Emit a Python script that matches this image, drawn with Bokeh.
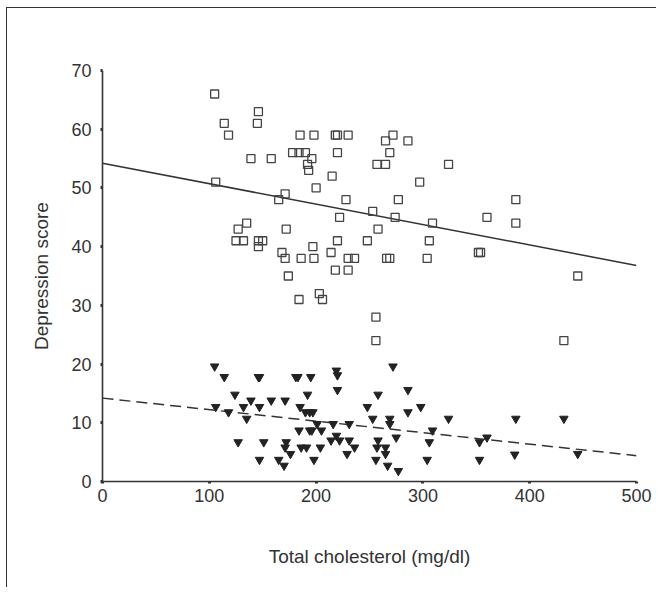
from bokeh.plotting import figure
from bokeh.models import Range1d, FixedTicker
from bokeh.embed import file_html
from bokeh.resources import INLINE

# --- data ---
sq_x = [105, 114, 146, 145, 118, 139, 158, 106, 171, 165, 127, 135, 125, 132, 146, 150, 146, 172,
        168, 171, 174, 185, 198, 218, 220, 230, 272, 265, 286, 178, 184, 190, 196, 192, 193, 220,
        269, 257, 265, 324, 215, 200, 297, 228, 277, 253, 222, 274, 309, 360, 258, 220, 248, 306,
        197, 186, 198, 214, 230, 236, 266, 269, 304, 352, 354, 218, 230, 184, 203, 206, 256, 256,
        445, 432, 387, 387]
sq_y = [66, 61, 63, 61, 59, 55, 55, 51, 49, 48, 43, 44, 41, 41, 41, 41, 40, 43,
        39, 38, 35, 59, 59, 59, 59, 59, 59, 58, 58, 56, 56, 56, 55, 54, 53, 56,
        56, 54, 54, 54, 52, 50, 51, 48, 48, 46, 45, 45, 44, 45, 43, 41, 41, 41,
        40, 38, 38, 39, 38, 38, 38, 38, 38, 39, 39, 36, 36, 31, 32, 31, 28, 24,
        35, 24, 48, 44]

tri_x = [105, 114, 146, 147, 124, 139, 158, 171, 106, 132, 147, 118, 135, 127, 151, 172, 171, 147,
         165, 170, 176, 181, 183, 195, 192, 185, 190, 194, 197, 201, 184, 194, 196, 205, 186, 191,
         204, 198, 219, 220, 220, 216, 219, 214, 222, 231, 231, 236, 229, 248, 253, 258, 272, 269,
         269, 258, 257, 265, 265, 256, 267, 275, 277, 286, 286, 298, 309, 306, 304, 324, 353, 360,
         353, 387, 386, 432, 445]
tri_y = [19.6, 17.8, 17.8, 17.8, 14.8, 13.8, 13.8, 13.8, 12.7, 12.7, 12.7, 11.8, 10.7, 6.7, 6.7, 6.7, 5.8, 3.7,
         3.7, 2.7, 4.7, 17.8, 17.8, 17.8, 14.8, 12.7, 11.8, 11.8, 11.8, 9.8, 8.7, 8.7, 8.7, 8.7, 5.8, 5.8,
         5.8, 3.7, 18.9, 18.1, 15.6, 9.8, 7.8, 7.0, 7.0, 9.8, 7.0, 5.8, 4.7, 12.7, 10.7, 14.8, 19.6, 10.7,
         9.8, 7.0, 5.8, 5.8, 4.7, 3.7, 2.7, 7.5, 1.8, 15.6, 11.8, 12.7, 8.7, 6.7, 3.7, 10.7, 6.7, 7.5,
         3.7, 10.7, 4.6, 10.7, 4.7]

fit_x = [0, 500]
fit_sq_y = [54.2, 36.8]
fit_tri_y = [14.2, 4.4]

x_ticks = [0, 100, 200, 300, 400, 500]
y_ticks = [0, 10, 20, 30, 40, 50, 60, 70]

INK = "#333333"
FONT = "Liberation Sans"

p = figure(width=650, height=580, output_backend="svg", toolbar_location=None,
           x_range=Range1d(0, 500), y_range=Range1d(0, 70),
           min_border_left=95, min_border_right=21, min_border_top=62, min_border_bottom=107)
p.margin = (7, 0, 0, 6)
p.styles = {"border-left": "1.5px solid #333333", "border-top": "1.5px solid #333333"}

p.grid.visible = False
p.outline_line_color = None
p.background_fill_color = "white"
p.border_fill_color = "white"

for ax in (p.xaxis[0], p.yaxis[0]):
    ax.axis_line_color = INK
    ax.axis_line_width = 1.6
    ax.major_tick_line_color = INK
    ax.major_tick_line_width = 3
    ax.major_tick_out = 2
    ax.major_tick_in = 0
    ax.minor_tick_line_color = None
    ax.major_label_text_font = FONT
    ax.major_label_text_font_size = "18px"
    ax.major_label_text_color = INK
    ax.axis_label_text_font = FONT
    ax.axis_label_text_font_size = "19px"
    ax.axis_label_text_font_style = "normal"
    ax.axis_label_text_color = INK

p.xaxis.ticker = FixedTicker(ticks=x_ticks)
p.yaxis.ticker = FixedTicker(ticks=y_ticks)
p.xaxis.major_label_standoff = 5
p.yaxis.major_label_standoff = 9
p.xaxis.axis_label = "Total cholesterol (mg/dl)"
p.yaxis.axis_label = "Depression score"
p.xaxis.axis_label_standoff = 41
p.yaxis.axis_label_standoff = 16

p.line(fit_x, fit_sq_y, line_color=INK, line_width=1.5)
p.line(fit_x, fit_tri_y, line_color=INK, line_width=1.5, line_dash="11 6")

p.scatter(sq_x, sq_y, marker="square", size=8, fill_color="white", fill_alpha=0,
          line_color="#444444", line_width=1.3)
p.scatter(tri_x, tri_y, marker="inverted_triangle", size=8.5, fill_color="#222222",
          line_color="#222222", line_width=1)

open("out.html", "w").write(file_html(p, INLINE))
